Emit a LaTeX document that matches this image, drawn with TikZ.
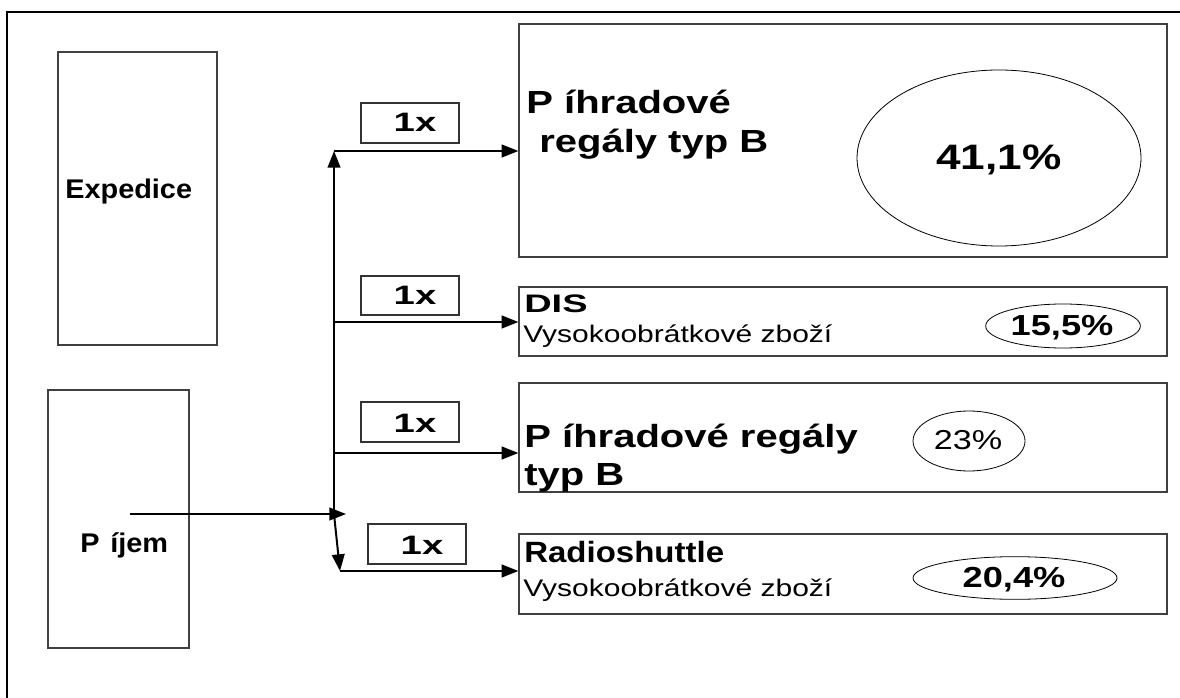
\documentclass[tikz,border=0pt]{standalone}
\usepackage{graphicx}
\usepackage{fontspec}
\setmainfont[FakeStretch=1.25]{Liberation Sans}
\newfontfamily\sidefont[FakeStretch=1.07]{Liberation Sans}
\usetikzlibrary{arrows.meta,shapes.geometric,fit}

\newcommand{\fsz}[1]{\fontsize{#1}{#1}\selectfont}
\newcommand{\wx}[2]{\scalebox{#1}[1]{#2}}

\tikzset{
  bx/.style={draw=black!75, line width=0.9pt, rectangle, inner sep=0pt},
  tagbox/.style={draw=black!80, line width=0.9pt, rectangle, inner sep=0pt},
  oval/.style={draw=black, line width=0.6pt, ellipse, inner sep=0pt},
  txt/.style={inner sep=0pt, anchor=base west},
  pct/.style={inner sep=0pt, anchor=base, font=\bfseries\fsz{21.75pt}},
  tagtxt/.style={inner sep=0pt, anchor=base, font=\bfseries\fsz{20pt}},
  link/.style={line width=1.5pt, -{Triangle[length=12.5pt,width=9.5pt]}}
}

\begin{document}
\begin{tikzpicture}[x=0.75pt,y=-0.75pt]
\useasboundingbox (0,0) rectangle (1180,698);

% outer frame (top and left edges only)
\coordinate (fbl) at (7,698);
\coordinate (ftl) at (7,12);
\coordinate (ftr) at (1180,12);
\draw[line width=0.8pt] (fbl) -- (ftl) -- (ftr);

% left side areas
\node[bx, fit={(58,52) (217,345)}] (exp) {};
\node[txt, font=\sidefont\bfseries\fsz{20.25pt}] (exptxt) at (65,199) {Expedice};

\node[bx, fit={(48,390) (189,648)}] (prj) {};
\node[txt, font=\sidefont\bfseries\fsz{20.25pt}] (prjtxt) at (80,552) {P\hspace{0.4em}íjem};

% storage areas on the right
\node[bx, fit={(519,24) (1167,257)}] (boxA) {};
\node[txt, font=\bfseries\fsz{24pt}] (a1) at (526,114) {P\hspace{0.35em}íhradové};
\node[txt, font=\bfseries\fsz{24pt}] (a2) at (539,153) {regály typ B};
\node[oval, minimum width=213pt, minimum height=132pt] (eA) at (999,158) {};
\node[pct, font=\bfseries\fsz{26.5pt}] (pA) at (999,170) {41,1\%};

\node[bx, fit={(519,287) (1167,356)}] (boxB) {};
\node[txt, font=\bfseries\fsz{19pt}] (b1) at (524,312) {\wx{1.2}{DIS}};
\node[txt, font=\fsz{18pt}] (b2t) at (523,342) {Vysokoobrátkové zboží};
\node[oval, minimum width=116pt, minimum height=33pt] (eB) at (1063,326) {};
\node[pct] (pB) at (1062,335) {15,5\%};

\node[bx, fit={(519,383) (1167,492)}] (boxC) {};
\node[txt, font=\bfseries\fsz{24pt}] (c1) at (524,447) {P\hspace{0.35em}íhradové regály};
\node[txt, font=\bfseries\fsz{24pt}] (c2) at (524,485) {typ B};
\node[oval, minimum width=84pt, minimum height=45pt] (eC) at (969,441) {};
\node[inner sep=0pt, anchor=base, font=\fsz{20.5pt}] (pC) at (968,449) {23\%};

\node[bx, fit={(519,534) (1167,614)}] (boxD) {};
\node[txt, font=\bfseries\fsz{22pt}] (d1) at (524,562) {\wx{0.9}{Radioshuttle}};
\node[txt, font=\fsz{18pt}] (d2) at (523,596) {Vysokoobrátkové zboží};
\node[oval, minimum width=153pt, minimum height=32pt] (eD) at (1015,578) {};
\node[pct] (pD) at (1014,587) {20,4\%};

% multiplicity tags
\node[tagbox, fit={(361,103) (459,143)}] (t1) {};
\node[tagtxt] at (415,132) {\wx{1.15}{1x}};
\node[tagbox, fit={(361,276) (459,315)}] (t2) {};
\node[tagtxt] at (415,305) {\wx{1.15}{1x}};
\node[tagbox, fit={(361,402) (459,442)}] (t3) {};
\node[tagtxt] at (415,432) {\wx{1.15}{1x}};
\node[tagbox, fit={(368,524) (466,564)}] (t4) {};
\node[tagtxt] at (422,554) {\wx{1.15}{1x}};

% distribution connectors
\coordinate (pin) at (130,514);
\coordinate (jtip) at (346,514);
\coordinate (jn) at (334,514);
\coordinate (top) at (334,151);
\coordinate (br2) at (334,322);
\coordinate (br3) at (334,453);
\coordinate (sl) at (340,571);

\draw[link] (pin) -- (jtip);
\draw[link] (jn) -- (top);
\draw[link] (top) -- (top -| boxA.west);
\draw[link] (br2) -- (br2 -| boxB.west);
\draw[link] (br3) -- (br3 -| boxC.west);
\draw[link] (jn) -- (sl);
\draw[link] (sl) -- (sl -| boxD.west);
\end{tikzpicture}
\end{document}
